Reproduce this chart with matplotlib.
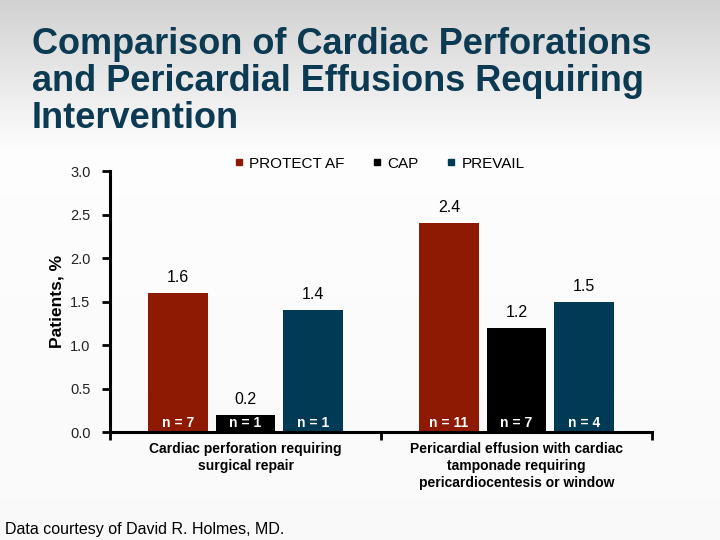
import numpy as np
import matplotlib
matplotlib.use("Agg")
import matplotlib.pyplot as plt
from matplotlib.lines import Line2D

plt.rcParams['font.family'] = ['Liberation Sans', 'DejaVu Sans']

# data
categories = ["Cardiac perforation requiring\nsurgical repair",
              "Pericardial effusion with cardiac\ntamponade requiring\npericardiocentesis or window"]
series = ["PROTECT AF", "CAP", "PREVAIL"]
values = {
    "PROTECT AF": [1.6, 2.4],
    "CAP": [0.2, 1.2],
    "PREVAIL": [1.4, 1.5],
}
counts = {
    "PROTECT AF": ["n = 7", "n = 11"],
    "CAP": ["n = 1", "n = 7"],
    "PREVAIL": ["n = 1", "n = 4"],
}
colors = {"PROTECT AF": "#8e1a03", "CAP": "#000000", "PREVAIL": "#003a55"}
yticks = [0.0, 0.5, 1.0, 1.5, 2.0, 2.5, 3.0]

fig = plt.figure(figsize=(7.2, 5.4), dpi=100)

# grey-to-white background gradient
bg = fig.add_axes([0, 0, 1, 1], zorder=-10)
grad = np.ones((540, 1))
grad[:150, 0] = np.linspace(0.82, 0.99, 150)
grad[150:, 0] = np.linspace(0.99, 0.975, 390)
bg.imshow(grad, aspect='auto', cmap='gray', vmin=0, vmax=1, extent=[0, 1, 0, 1])
bg.axis('off')

fig.text(0.044, 0.95, "Comparison of Cardiac Perforations\nand Pericardial Effusions Requiring\nIntervention",
         color="#0b3a52", fontsize=26, fontweight='bold', va='top', ha='left',
         linespacing=1.08)

ax = fig.add_axes([0.1528, 0.2, 0.7528, 0.4833])
ax.patch.set_alpha(0)

x = np.arange(len(categories))
offset = 0.249
width = 0.221
for i, s in enumerate(series):
    xs = x + (i - 1) * offset
    ax.bar(xs, values[s], width=width, color=colors[s], zorder=2)
    for xi, v, n in zip(xs, values[s], counts[s]):
        ax.text(xi, v + 0.09, f"{v:.1f}", ha='center', va='bottom', fontsize=11.5, color='black')
        ax.text(xi, 0.1, n, ha='center', va='center', fontsize=10, fontweight='bold', color='white', zorder=3)

ax.set_xlim(-0.5, 1.5)
ax.set_ylim(0, 3.0)
ax.set_yticks(yticks)
ax.set_yticklabels([f"{t:.1f}" for t in yticks], fontsize=10.5, color='#222222')
ax.set_xticks([-0.5, 0.5, 1.5])
ax.set_xticklabels([])
ax.tick_params(axis='y', direction='out', length=6, width=2, pad=8)
ax.tick_params(axis='x', direction='out', length=6, width=2)
for side in ['top', 'right']:
    ax.spines[side].set_visible(False)
for side in ['left', 'bottom']:
    ax.spines[side].set_linewidth(2.2)

for xi, c in zip(x, categories):
    ax.text(xi, -0.12, c, ha='center', va='top', fontsize=10, fontweight='bold',
            linespacing=1.25, transform=ax.transData)

ax.set_ylabel("Patients, %", fontsize=12.5, fontweight='bold', labelpad=4)

handles = [Line2D([0], [0], marker='s', linestyle='none', markersize=5,
                  color=colors[s]) for s in series]
fig.legend(handles, series, loc='center', bbox_to_anchor=(0.527, 0.697), ncol=3,
           frameon=False, fontsize=11, handlelength=0.6, handletextpad=0.4,
           columnspacing=1.8)

fig.text(0.007, 0.006, "Data courtesy of David R. Holmes, MD.", fontsize=11.5,
         ha='left', va='bottom', color='black')

fig.savefig("out.png", dpi=100)
